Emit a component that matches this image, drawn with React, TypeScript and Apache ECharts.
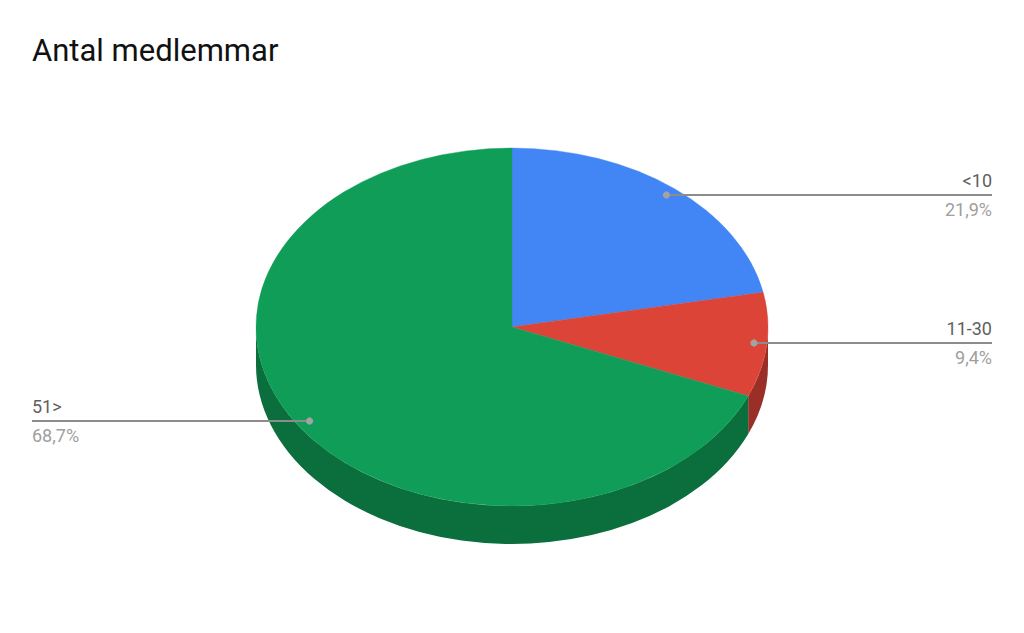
import React, { useEffect, useRef } from "react";
import * as echarts from "echarts";

const titleText = "Antal medlemmar";
const categories = ["<10", "11-30", "51>"];
const shares = [21.9, 9.4, 68.7];
const topColors = ["#4285f4", "#db4437", "#0f9d58"];
const sideColors = ["#2e5dab", "#992f26", "#0a6e3d"];
const labelSides = ["right", "right", "left"];

const CX = 512, CY = 327, RX = 256, RY = 179, DEPTH = 38;
const LEFT = 32, RIGHT = 992, DOT_R = 0.95;

const total = shares.reduce((a, b) => a + b, 0);
const pt = (deg: number, dy = 0, k = 1) => {
  const r = (deg * Math.PI) / 180;
  return [CX + k * RX * Math.sin(r), CY + dy - k * RY * Math.cos(r)];
};
const startAngle = (i: number) => (shares.slice(0, i).reduce((a, b) => a + b, 0) / total) * 360;
const fmt = (v: number) => v.toFixed(1).replace(".", ",") + "%";

function renderItem(params: any, api: any) {
  const i = params.dataIndex;
  const a = startAngle(i);
  const b = a + (api.value(1) / total) * 360;
  const children: any[] = [];

  const [x0, y0] = pt(a);
  const [x1, y1] = pt(b);
  const large = b - a > 180 ? 1 : 0;
  children.push({
    type: "path",
    z2: 2,
    shape: { pathData: `M${CX} ${CY}L${x0} ${y0}A${RX} ${RY} 0 ${large} 1 ${x1} ${y1}Z` },
    style: { fill: topColors[i], stroke: topColors[i], lineWidth: 0.4 },
  });

  const sa = Math.max(a, 90);
  const sb = Math.min(b, 270);
  if (sb > sa) {
    const [s0x, s0y] = pt(sa);
    const [s1x, s1y] = pt(sb);
    const [d1x, d1y] = pt(sb, DEPTH);
    const [d0x, d0y] = pt(sa, DEPTH);
    const l = sb - sa > 180 ? 1 : 0;
    children.push({
      type: "path",
      z2: 1,
      shape: {
        pathData: `M${s0x} ${s0y}A${RX} ${RY} 0 ${l} 1 ${s1x} ${s1y}L${d1x} ${d1y}A${RX} ${RY} 0 ${l} 0 ${d0x} ${d0y}Z`,
      },
      style: { fill: sideColors[i] },
    });
  }

  const [dx, dy] = pt((a + b) / 2, 0, DOT_R);
  const right = labelSides[i] === "right";
  const endX = right ? RIGHT : LEFT;
  const lineY = Math.floor(dy - 0.1);
  children.push({
    type: "line",
    z2: 3,
    shape: { x1: dx, y1: lineY, x2: endX, y2: lineY },
    style: { stroke: "#8c8c8c", lineWidth: 2 },
  });
  children.push({
    type: "circle",
    z2: 4,
    shape: { cx: dx, cy: lineY, r: 3.6 },
    style: { fill: "#a3a3a3" },
  });
  children.push({
    type: "text",
    z2: 5,
    style: {
      text: categories[i],
      x: endX,
      y: lineY - 6,
      align: right ? "right" : "left",
      verticalAlign: "bottom",
      font: "18px Roboto",
      fill: "#5f5f5f",
    },
  });
  children.push({
    type: "text",
    z2: 5,
    style: {
      text: fmt(api.value(1)),
      x: endX,
      y: lineY + 5.5,
      align: right ? "right" : "left",
      verticalAlign: "top",
      font: "18px Roboto",
      fill: "#9e9e9e",
    },
  });
  return { type: "group", children };
}

export default function App() {
  const ref = useRef<HTMLDivElement>(null);
  useEffect(() => {
    const chart = echarts.init(ref.current!, undefined, { renderer: "svg" });
    chart.setOption({
      animation: false,
      backgroundColor: "#ffffff",
      title: {
        text: titleText,
        left: 32,
        top: 34.5,
        padding: 0,
        textStyle: { fontFamily: "Roboto", fontSize: 31, fontWeight: "normal", color: "#111111" },
      },
      series: [
        {
          type: "custom",
          coordinateSystem: "none",
          renderItem,
          data: categories.map((c, i) => [i, shares[i], c]),
        },
      ],
    });
    return () => chart.dispose();
  }, []);
  return <div ref={ref} style={{ position: "absolute", left: 0, top: 0, width: 1024, height: 633 }} />;
}
